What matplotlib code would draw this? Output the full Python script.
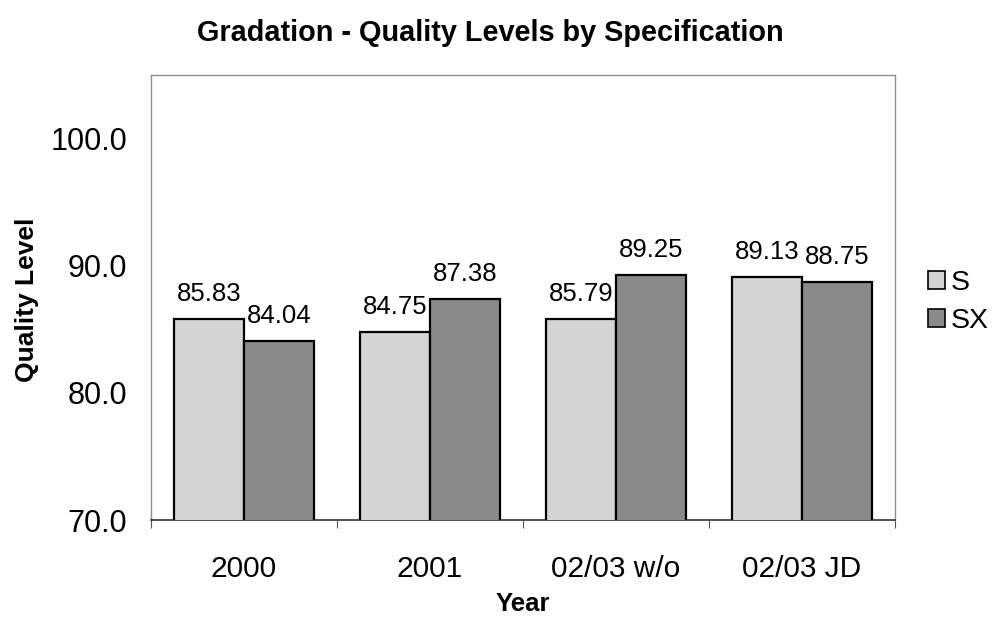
import numpy as np
import matplotlib
matplotlib.use('Agg')
import matplotlib.pyplot as plt

plt.rcParams['font.family'] = ['Liberation Sans', 'DejaVu Sans']

years = ['2000', '2001', '02/03 w/o', '02/03 JD']
s_vals = [85.83, 84.75, 85.79, 89.13]
sx_vals = [84.04, 87.38, 89.25, 88.75]
y_ticks = [70, 80, 90, 100]

fig = plt.figure(figsize=(9.99, 6.28), dpi=100)
ax = fig.add_axes([151 / 999, 108 / 628, 744 / 999, 445 / 628])

x = np.arange(len(years))
w = 0.376
bars_s = ax.bar(x - w, s_vals, width=w, align='edge', color='#d4d4d4',
                edgecolor='black', linewidth=1.6, label='S', zorder=3)
bars_sx = ax.bar(x, sx_vals, width=w, align='edge', color='#8a8a8a',
                 edgecolor='black', linewidth=1.6, label='SX', zorder=3)

for bars in (bars_s, bars_sx):
    for b in bars:
        ax.annotate('%.2f' % b.get_height(),
                    (b.get_x() + b.get_width() / 2, b.get_height()),
                    xytext=(0, 18), textcoords='offset points',
                    ha='center', va='center', fontsize=18.5)

ax.set_xlim(-0.5, 3.5)
ax.set_ylim(70, 105)
ax.set_yticks(y_ticks)
ax.set_yticklabels(['%.1f' % v for v in y_ticks], fontsize=22)
ax.tick_params(axis='y', length=0, pad=17)

ax.set_xticks(np.arange(-0.5, 4, 1), minor=True)
ax.set_xticks(x)
ax.set_xticklabels(years, fontsize=21.5)
ax.tick_params(axis='x', which='major', length=0, pad=25)
ax.tick_params(axis='x', which='minor', length=6, width=0.8, color='#555555')

for side in ('top', 'right', 'left'):
    ax.spines[side].set_color('#8c8c8c')
    ax.spines[side].set_linewidth(1.0)
    ax.spines[side].set_linestyle((0, (1, 1)))
ax.spines['bottom'].set_color('#333333')
ax.spines['bottom'].set_linewidth(1.2)

fig.text(490 / 999, 1 - 33 / 628, 'Gradation - Quality Levels by Specification',
         ha='center', va='center', fontsize=20.8, fontweight='bold')
fig.text(27 / 999, 1 - 300 / 628, 'Quality Level', rotation=90,
         ha='center', va='center', fontsize=19, fontweight='bold')
fig.text(523 / 999, 1 - 604 / 628, 'Year', ha='center', va='center',
         fontsize=18.5, fontweight='bold')

leg = fig.legend(handles=[bars_s, bars_sx], labels=['S', 'SX'],
                 loc='center left', bbox_to_anchor=(908 / 999, 1 - 302 / 628),
                 fontsize=20.5, frameon=False, handlelength=0.6, handleheight=0.6,
                 handletextpad=0.2, labelspacing=0.45, borderpad=0.2)
for h in leg.legend_handles:
    h.set_linewidth(1.2)

fig.savefig('out.png', dpi=100)
